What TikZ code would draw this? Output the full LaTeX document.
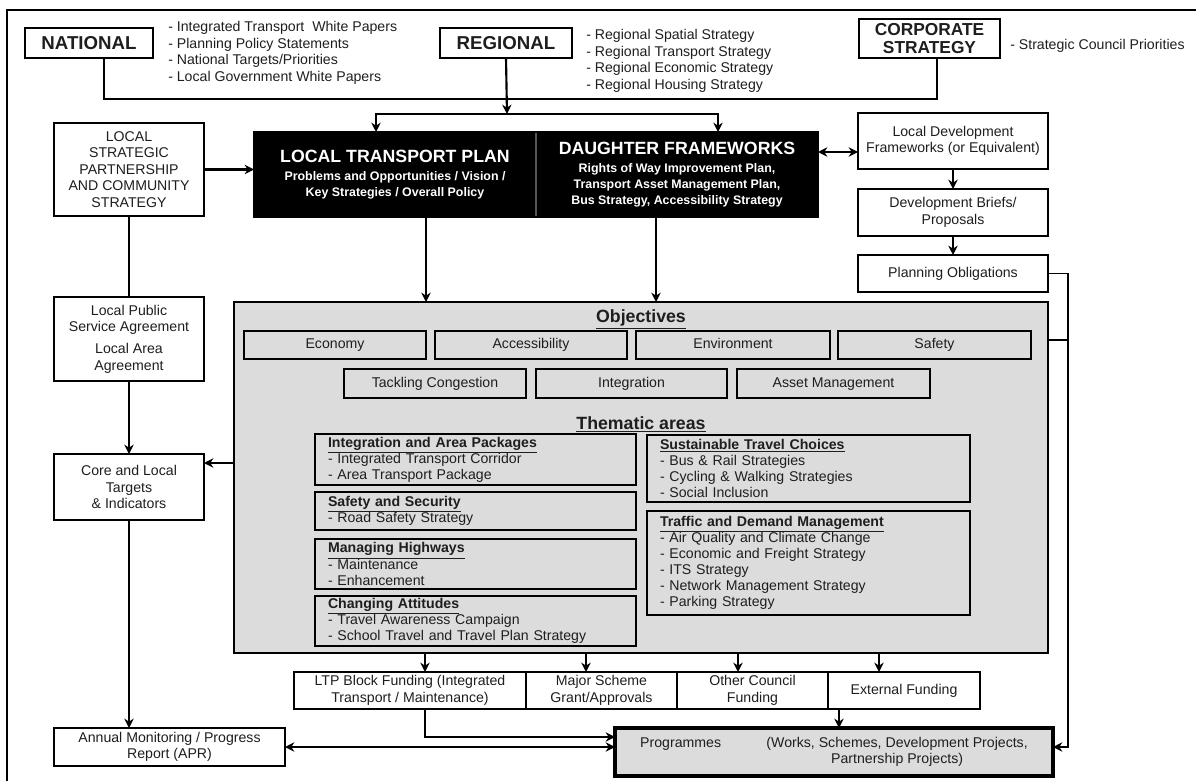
\documentclass[tikz,border=0pt]{standalone}
\usepackage{fontspec}
\setmainfont{Liberation Sans}
\usetikzlibrary{arrows.meta,positioning}
\definecolor{PanelGray}{RGB}{220,220,220}
\definecolor{InkGray}{RGB}{30,30,30}
\definecolor{SplitGray}{RGB}{85,85,85}
\newcommand{\bodyfont}{\fontsize{10.6}{12.4}\selectfont}
\newcommand{\listfont}{\fontsize{10.6}{12.5}\selectfont}
\newcommand{\capfont}{\fontsize{14}{16.5}\selectfont\bfseries}
\newcommand{\titlefont}{\fontsize{13.3}{16}\selectfont\bfseries}
\newcommand{\subfont}{\fontsize{9.3}{12}\selectfont\bfseries}
\newcommand{\themfont}{\fontsize{10.6}{12.1}\selectfont}
\newcommand{\themhead}[1]{\underline{\textbf{#1}}}

\begin{document}
\begin{tikzpicture}[x=0.75pt,y=-0.75pt,>={Stealth[length=7pt,width=7pt]},
    pxsize/.style 2 args={minimum width=#1*0.75pt,minimum height=#2*0.75pt},
    conn/.style={line width=1.6pt},
    arr/.style={conn,->},
    dbl/.style={conn,<->},
    box/.style={draw,line width=1.4pt,fill=white,text=InkGray,inner sep=1pt,outer sep=0pt,align=center,font=\bodyfont},
    capbox/.style={box,line width=2pt,font=\capfont},
    blackbox/.style={box,fill=black,text=white,line width=1.5pt,font=\subfont},
    objbox/.style={box,fill=PanelGray,line width=1.5pt,text height=7.6pt,text depth=2.2pt},
    fundbox/.style={box,line width=1.2pt},
    thembox/.style={draw,line width=2.2pt,fill=PanelGray,text=InkGray,anchor=north west,align=left,font=\themfont,inner xsep=9.75pt,inner ysep=0pt,outer sep=0pt},
    listtext/.style={anchor=west,align=left,inner sep=0pt,text=InkGray,font=\listfont}]
  \useasboundingbox (0,0) rectangle (1196,781);
  \draw[line width=1.1pt] (7,781) -- (7,10) -- (1196,10);

  \node[capbox,pxsize={128}{30}] (nat) at (89,43) {NATIONAL};
  \node[capbox,pxsize={132}{30}] (reg) at (506,43) {REGIONAL};
  \node[capbox,pxsize={141}{39},font=\fontsize{13}{13.5}\selectfont\bfseries] (corp) at (929.5,38.5) {CORPORATE\\STRATEGY};
  \node[listtext] (natlist) at (168,53) {- Integrated Transport\ \ White Papers\\- Planning Policy Statements\\- National Targets/Priorities\\- Local Government White Papers};
  \node[listtext] (reglist) at (586,61) {- Regional Spatial Strategy\\- Regional Transport Strategy\\- Regional Economic Strategy\\- Regional Housing Strategy};
  \node[listtext] (corplist) at (1010,46) {- Strategic Council Priorities};

  \node[blackbox,pxsize={282}{85}] (ltp) at (395,174.5) {{\titlefont LOCAL TRANSPORT PLAN}\\[1pt]Problems and Opportunities / Vision /\\Key Strategies / Overall Policy};
  \node[blackbox,pxsize={282}{85}] (dfw) at (677,174.5) {{\titlefont DAUGHTER FRAMEWORKS}\\[1pt]Rights of Way Improvement Plan,\\Transport Asset Management Plan,\\Bus Strategy, Accessibility Strategy};
  \draw[SplitGray,line width=1pt] ([yshift=-1pt]ltp.north east) -- ([yshift=1pt]ltp.south east);

  \node[box,pxsize={150}{93}] (lsp) at (129,169.5) {LOCAL\\STRATEGIC\\PARTNERSHIP\\AND COMMUNITY\\STRATEGY};
  \node[box,pxsize={150}{84}] (lps) at (129,339) {Local Public\\Service Agreement\\[4pt]Local Area\\Agreement};
  \node[box,pxsize={150}{66}] (core) at (129,487) {Core and Local\\Targets\\\& Indicators};
  \node[box,pxsize={231}{38}] (annual) at (169.5,747) {Annual Monitoring / Progress\\Report (APR)};

  \node[box,pxsize={190}{56}] (ldf) at (953,141) {Local Development\\Frameworks (or Equivalent)};
  \node[box,pxsize={190}{47}] (briefs) at (953,212.5) {Development Briefs/\\Proposals};
  \node[box,pxsize={190}{37}] (plan) at (953,273.5) {Planning Obligations};

  \node[objbox,pxsize={814}{351},line width=1.8pt,text height=,text depth=] (obj) at (641,477.5) {};
  \node[text=InkGray,font=\titlefont] (objhead) at (641,319) {\underline{Objectives}};
  \node[objbox,pxsize={182}{28}] (economy) at (335,345) {Economy};
  \node[objbox,pxsize={192}{28}] (access) at (531,345) {Accessibility};
  \node[objbox,pxsize={194}{28}] (environ) at (733,345) {Environment};
  \node[objbox,pxsize={193}{28}] (safety) at (934.5,345) {Safety};
  \node[objbox,pxsize={182}{29}] (congest) at (435,383.5) {Tackling Congestion};
  \node[objbox,pxsize={191}{29}] (integ) at (631.5,383.5) {Integration};
  \node[objbox,pxsize={193}{29}] (asset) at (833.5,383.5) {Asset Management};
  \node[text=InkGray,font=\titlefont] (themhead) at (641,424) {\underline{Thematic areas}};

  \node[thembox,text width=221.25pt,minimum height=51*0.75pt] (packages) at (315,434) {\themhead{Integration and Area Packages}\\- Integrated Transport Corridor\\- Area Transport Package};
  \node[thembox,text width=221.25pt,minimum height=38*0.75pt] (security) at (315,492) {\themhead{Safety and Security}\\- Road Safety Strategy};
  \node[thembox,text width=221.25pt,minimum height=50*0.75pt] (highways) at (315,539) {\themhead{Managing Highways}\\- Maintenance\\- Enhancement};
  \node[thembox,text width=221.25pt,minimum height=50*0.75pt] (attitudes) at (315,596) {\themhead{Changing Attitudes}\\- Travel Awareness Campaign\\- School Travel and Travel Plan Strategy};
  \node[thembox,text width=222.75pt,minimum height=67*0.75pt] (travel) at (647,435) {\themhead{Sustainable Travel Choices}\\- Bus \& Rail Strategies\\- Cycling \& Walking Strategies\\- Social Inclusion};
  \node[thembox,text width=222.75pt,minimum height=104*0.75pt,line width=1.6pt] (demand) at (647,511) {\themhead{Traffic and Demand Management}\\- Air Quality and Climate Change\\- Economic and Freight Strategy\\- ITS Strategy\\- Network Management Strategy\\- Parking Strategy};

  \node[fundbox,pxsize={232}{37}] (ltpf) at (410,690.5) {LTP Block Funding (Integrated\\Transport / Maintenance)};
  \node[fundbox,pxsize={151}{37}] (major) at (601.5,690.5) {Major Scheme\\Grant/Approvals};
  \node[fundbox,pxsize={151}{37}] (other) at (752.5,690.5) {Other Council\\Funding};
  \node[fundbox,pxsize={152}{37}] (ext) at (904,690.5) {External Funding};
  \node[draw,line width=3pt,fill=PanelGray,text=InkGray,font=\bodyfont,inner sep=0pt,outer sep=0pt,pxsize={438}{48}] (prog) at (834,752) {Programmes\hspace{34pt}\begin{tabular}[t]{@{}c@{}}(Works, Schemes, Development Projects,\\Partnership Projects)\end{tabular}};

  \coordinate (natfoot) at (104,58);
  \coordinate (corpfoot) at (937,58);
  \coordinate (split) at (507,114);
  \coordinate (railfoot) at (1068,747);
  \draw[conn] (natfoot) |- (corpfoot |- 0,99) -- (corpfoot);
  \draw[arr] (reg.south) -- (split);
  \draw[arr] (split) -| (376,0 |- ltp.north);
  \draw[arr] (split) -| (718,0 |- dfw.north);
  \draw[arr] (lsp.east) -- (lsp.east -| ltp.west);
  \draw[dbl] (dfw.east |- 0,152) -- (ldf.west |- 0,152);
  \draw[arr] (ldf) -- (briefs);
  \draw[arr] (briefs) -- (plan);
  \draw[conn] (lsp) -- (lps);
  \draw[arr] (lps) -- (core);
  \draw[arr] (core.south) -- (core.south |- annual.north);
  \draw[arr] (426,0 |- ltp.south) -- (426,0 |- obj.north);
  \draw[arr] (656,0 |- dfw.south) -- (656,0 |- obj.north);
  \draw[arr] (obj.west |- 0,463) -- (core.east |- 0,463);
  \foreach \xx/\fund in {425/ltpf,586/major,738/other,879/ext}
    \draw[arr] (\xx,0 |- obj.south) -- (\xx,0 |- \fund.north);
  \draw[arr] (425,0 |- ltpf.south) |- (prog.west |- 0,737);
  \draw[dbl] (annual.east) -- (annual.east -| prog.west);
  \draw[arr] (839,0 |- ext.south) -- (839,0 |- prog.north);
  \draw[arr,line width=1.2pt] (plan.east) -| (railfoot) -- (railfoot -| prog.east);
  \draw[line width=1.2pt] (obj.east |- 0,340) -- (railfoot |- 0,340);
\end{tikzpicture}
\end{document}
